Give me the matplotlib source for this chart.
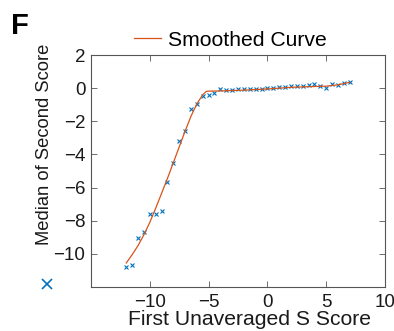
import matplotlib
matplotlib.use("Agg")
import matplotlib.pyplot as plt
from matplotlib.lines import Line2D

plt.rcParams['font.family'] = ['Liberation Sans', 'DejaVu Sans']

# Data: median points
x_pts = [-12, -11.5, -11, -10.5, -10, -9.5, -9, -8.5, -8, -7.5, -7, -6.5, -6,
         -5.5, -5, -4.5, -4, -3.5, -3, -2.5, -2, -1.5, -1, -0.5, 0, 0.5, 1,
         1.5, 2, 2.5, 3, 3.5, 4, 4.5, 5, 5.5, 6, 6.5, 7]
y_pts = [-10.78, -10.66, -9.03, -8.71, -7.57, -7.57, -7.40, -5.65, -4.49, -3.2,
         -2.6, -1.23, -0.93, -0.46, -0.40, -0.30, -0.08, -0.12, -0.12, -0.08,
         -0.04, -0.04, -0.04, -0.04, 0.0, 0.02, 0.06, 0.06, 0.12, 0.12, 0.12,
         0.16, 0.22, 0.12, 0.0, 0.26, 0.18, 0.34, 0.38]

# Smoothed curve
x_curve = [-12, -11.5, -11, -10.5, -10, -9.5, -9, -8.5, -8, -7.5, -7, -6.5, -6,
           -5.5, -5.2, -5, -4, -2, 0, 2, 4, 5, 6, 7]
y_curve = [-10.55, -10.05, -9.5, -8.85, -8.1, -7.25, -6.35, -5.45, -4.5, -3.55,
           -2.6, -1.7, -0.95, -0.4, -0.2, -0.18, -0.17, -0.12, -0.05, 0.05, 0.1,
           0.12, 0.2, 0.35]

x_ticks = [-10, -5, 0, 5, 10]
y_ticks = [-10, -8, -6, -4, -2, 0, 2]

W, H = 394, 331
fig = plt.figure(figsize=(W / 100, H / 100), dpi=100)
ax = fig.add_axes([91 / W, 1 - 287 / H, (385 - 91) / W, (287 - 55) / H])

blue = '#0072BD'
orange = '#D95319'
ax.plot(x_pts, y_pts, linestyle='none', marker='x', color=blue, markersize=3.3,
        markeredgewidth=0.8)
line, = ax.plot(x_curve, y_curve, color=orange, linewidth=0.9)

ax.set_xlim(-15, 10)
ax.set_ylim(-12, 2)
ax.set_xticks(x_ticks)
ax.set_yticks(y_ticks)
ax.tick_params(direction='in', top=True, right=True, labelsize=13.5,
               length=4, width=0.6, colors='#555555', labelcolor='#1a1a1a')
ax.tick_params(axis='x', pad=5)
ax.tick_params(axis='y', pad=4)
for s in ax.spines.values():
    s.set_color('#555555')
    s.set_linewidth(0.8)

ax.set_xlabel('First Unaveraged S Score', fontsize=15.2, labelpad=-1, color='#1a1a1a')
ax.xaxis.label.set_position(((250 - 91) / (385 - 91), 0))

fig.text(45 / W, 1 - 144 / H, 'Median of Second Score', rotation=90,
         ha='center', va='center', fontsize=13.2, color='#1a1a1a')
fig.add_artist(Line2D([47 / W], [1 - 284 / H], marker='x', color=blue,
                      markersize=7, markeredgewidth=1.2, linestyle='none',
                      transform=fig.transFigure))

fig.text(11 / W, 1 - 26 / H, 'F', fontsize=21, fontweight='bold', va='center',
         ha='left')

fig.legend([line], ['Smoothed Curve'], loc='center', bbox_to_anchor=(230 / W, 1 - 40 / H),
           frameon=False, fontsize=15.2, handlelength=1.3, handletextpad=0.3,
           borderpad=0)

fig.savefig('out.png', dpi=100)
